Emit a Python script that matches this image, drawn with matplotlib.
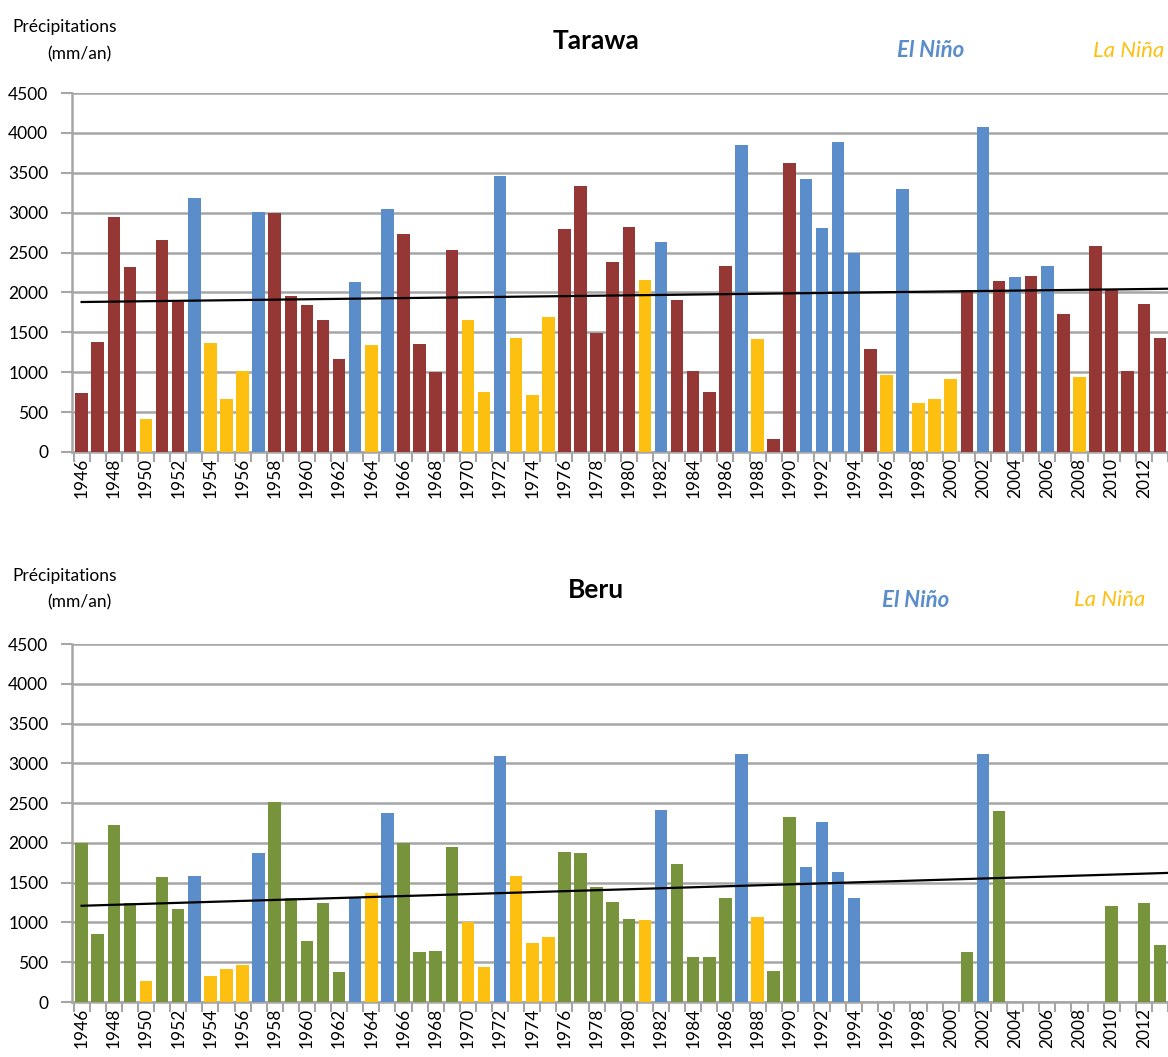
import numpy as np
import matplotlib
matplotlib.use("Agg")
import matplotlib.pyplot as plt

plt.rcParams['font.family'] = ['Lato', 'DejaVu Sans']

years = list(range(1946, 2014))

# Tarawa annual rainfall (mm/yr) and ENSO phase: N = neutral, E = El Niño, L = La Niña
tarawa_values = [740, 1380, 2940, 2320, 410, 2660, 1880, 3190, 1360, 660,
                 1010, 3010, 2990, 1960, 1840, 1650, 1160, 2130, 1340, 3040,
                 2730, 1350, 1000, 2530, 1660, 750, 3460, 1430, 720, 1690,
                 2800, 3330, 1490, 2380, 2820, 2160, 2630, 1910, 1010, 750,
                 2330, 3850, 1410, 160, 3620, 3420, 2810, 3880, 2500, 1290,
                 960, 3300, 620, 660, 910, 2030, 4070, 2140, 2190, 2210,
                 2330, 1730, 940, 2580, 2040, 1020, 1860, 1430]
tarawa_phase = ("NNNNLNNELL" "LENNNNNELE" "NNNNLLELLL" "NNNNNLENNN"
                "NELNNEEEEN" "LELLLNENEN" "ENLNNNNN")

# Beru annual rainfall (mm/yr), None = no data
beru_values = [2000, 860, 2220, 1240, 260, 1570, 1170, 1580, 330, 410,
               460, 1870, 2510, 1310, 770, 1240, 380, 1310, 1370, 2370,
               2000, 630, 640, 1950, 1010, 440, 3090, 1590, 740, 820,
               1890, 1870, 1440, 1260, 1050, 1030, 2410, 1730, 560, 570,
               1310, 3120, 1070, 390, 2330, 1700, 2260, 1640, 1310, None,
               None, None, None, None, None, 630, 3120, 2400, None, None,
               None, None, None, None, 1210, None, 1240, 720]
beru_phase = ("NNNNLNNELL" "LENNNNNELE" "NNNNLLELLL" "NNNNNLENNN"
              "NELNNEEEEN" "NNNNNNENNN" "NNNNNNNN")

# linear trend end points (1946, 2013)
tarawa_trend = [1880, 2045]
beru_trend = [1210, 1620]

blue = "#5A8DCA"
yellow = "#FDC010"
grid_col = "#A6A6A6"

fig = plt.figure(figsize=(11.68, 10.57), dpi=100)


def draw_panel(rect, values, phase, neutral_col, trend, title, y_text):
    ax = fig.add_axes(rect)
    x = np.arange(len(years))
    vals = np.array([np.nan if v is None else v for v in values], dtype=float)
    cols = [blue if p == "E" else yellow if p == "L" else neutral_col for p in phase]
    ax.bar(x, np.nan_to_num(vals), width=0.78, color=cols, zorder=3)
    ax.plot([x[0], x[-1] + 0.5], [trend[0], trend[1] + (trend[1] - trend[0]) * 0.5 / (len(x) - 1)],
            color="black", lw=1.6, zorder=4)

    ax.set_xlim(-0.6, len(years) - 0.55)
    ax.set_ylim(0, 4500)
    ax.set_yticks(range(0, 4501, 500))
    ax.grid(axis="y", color=grid_col, lw=1.8, zorder=0)
    ax.set_xticks(x[::2])
    ax.set_xticklabels([str(y) for y in years[::2]], rotation=90, fontsize=12.5)
    ax.set_xticks(np.arange(-0.5, len(years), 1), minor=True)
    ax.tick_params(axis="x", which="major", length=0, pad=4)
    ax.tick_params(axis="x", which="minor", length=7, width=1.5, color=grid_col)
    ax.tick_params(axis="y", length=8, width=1.5, color=grid_col, labelsize=12.5, pad=9)
    for s in ["top", "right"]:
        ax.spines[s].set_visible(False)
    for s in ["left", "bottom"]:
        ax.spines[s].set_color(grid_col)
        ax.spines[s].set_linewidth(1.8)

    fig.text(0.055, y_text, "Précipitations", fontsize=12.5, ha="center", va="center")
    fig.text(0.068, y_text - 0.025, "(mm/an)", fontsize=12.5, ha="center", va="center")
    fig.text(0.51, y_text - 0.013, title, fontsize=19, fontweight="bold", ha="center", va="center")
    return ax


draw_panel([0.0616, 0.5724, 0.9384, 0.3396], tarawa_values, tarawa_phase, "#953735",
           tarawa_trend, "Tarawa", 0.974)
fig.text(0.797, 0.952, "El Niño", fontsize=16, fontweight="bold", style="italic",
         color=blue, ha="center", va="center")
fig.text(0.966, 0.952, "La Niña", fontsize=16, style="italic", color=yellow,
         ha="center", va="center")

draw_panel([0.0616, 0.052, 0.9384, 0.3387], beru_values, beru_phase, "#77933C",
           beru_trend, "Beru", 0.455)
fig.text(0.784, 0.432, "El Niño", fontsize=16, fontweight="bold", style="italic",
         color=blue, ha="center", va="center")
fig.text(0.950, 0.432, "La Niña", fontsize=16, style="italic", color=yellow,
         ha="center", va="center")

fig.savefig("out.png", dpi=100)
